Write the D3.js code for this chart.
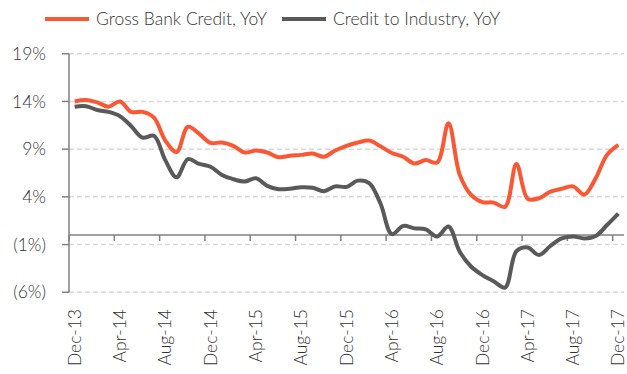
<!DOCTYPE html>
<html lang="en">
<head>
<meta charset="utf-8" />
<title>Gross Bank Credit vs Credit to Industry</title>
<script src="https://d3js.org/d3.v7.min.js"></script>
<style>
  body { margin: 0; background: #fff; }
  svg text { font-family: Lato, "Open Sans", sans-serif; font-weight: 300; fill: #333; }
</style>
</head>
<body>
<svg width="627" height="374"></svg>
<script>
// monthly series, Dec-13 .. Dec-17
var months = ["Dec-13","Jan-14","Feb-14","Mar-14","Apr-14","May-14","Jun-14","Jul-14","Aug-14","Sep-14","Oct-14","Nov-14",
  "Dec-14","Jan-15","Feb-15","Mar-15","Apr-15","May-15","Jun-15","Jul-15","Aug-15","Sep-15","Oct-15","Nov-15",
  "Dec-15","Jan-16","Feb-16","Mar-16","Apr-16","May-16","Jun-16","Jul-16","Aug-16","Sep-16","Oct-16","Nov-16",
  "Dec-16","Jan-17","Feb-17","Mar-17","Apr-17","May-17","Jun-17","Jul-17","Aug-17","Sep-17","Oct-17","Nov-17","Dec-17"];

var grossCredit = [14.0, 14.15, 13.9, 13.45, 14.0, 12.9, 12.9, 12.3, 9.9, 8.7, 11.35, 10.6,
  9.65, 9.7, 9.35, 8.65, 8.85, 8.65, 8.15, 8.3, 8.4, 8.55, 8.2, 8.85,
  9.35, 9.7, 9.9, 9.3, 8.6, 8.2, 7.5, 7.85, 7.6, 11.7, 6.3, 4.2,
  3.45, 3.4, 2.95, 7.45, 3.8, 3.85, 4.55, 4.85, 5.1, 4.25, 5.95, 8.4, 9.45];

var industryCredit = [13.45, 13.5, 13.1, 12.9, 12.45, 11.4, 10.2, 10.4, 7.85, 6.05, 7.95, 7.45,
  7.15, 6.3, 5.85, 5.6, 5.95, 5.15, 4.8, 4.85, 5.0, 4.95, 4.6, 5.1,
  5.05, 5.7, 5.45, 3.3, 0.1, 0.95, 0.7, 0.6, -0.15, 0.9, -1.75, -3.3,
  -4.2, -4.85, -5.5, -1.7, -1.3, -2.1, -1.15, -0.35, -0.15, -0.35, -0.1, 1.05, 2.25];

var yTicks = [-6, -1, 4, 9, 14, 19];
var labelEvery = 4;

var svg = d3.select("svg"),
    plotL = 69, plotR = 624, plotT = 53.7, plotB = 292.3;

var x = d3.scaleBand().domain(months).range([plotL, plotR]).paddingInner(0).paddingOuter(0);
var y = d3.scaleLinear().domain([-6, 19]).range([plotB, plotT]);

var fmt = function(v) { return v < 0 ? "(" + Math.abs(v) + "%)" : v + "%"; };

// gridlines + y ticks
var grid = svg.append("g");
grid.selectAll("line.grid").data(yTicks).enter().append("line")
    .attr("class", "grid")
    .attr("x1", plotL).attr("x2", plotR)
    .attr("y1", function(d) { return y(d); }).attr("y2", function(d) { return y(d); })
    .attr("stroke", "#d9d9d9").attr("stroke-width", 1.5).attr("stroke-dasharray", "5,3");
grid.selectAll("line.tick").data(yTicks).enter().append("line")
    .attr("class", "tick")
    .attr("x1", plotL - 7).attr("x2", plotL)
    .attr("y1", function(d) { return y(d); }).attr("y2", function(d) { return y(d); })
    .attr("stroke", "#808080").attr("stroke-width", 1.5);
grid.selectAll("text").data(yTicks).enter().append("text")
    .attr("x", 46).attr("y", function(d) { return y(d); })
    .attr("dy", "0.35em").attr("text-anchor", "end")
    .style("font-size", "17.5px")
    .text(fmt);

// y axis line
svg.append("line")
    .attr("x1", plotL).attr("x2", plotL).attr("y1", plotT).attr("y2", plotB)
    .attr("stroke", "#808080").attr("stroke-width", 1.5);

// x axis at zero
var xa = svg.append("g");
xa.append("line")
    .attr("x1", plotL).attr("x2", plotR).attr("y1", y(0)).attr("y2", y(0))
    .attr("stroke", "#808080").attr("stroke-width", 1.5);
var shown = months.filter(function(d, i) { return i % labelEvery === 0; });
xa.selectAll("line.t").data(shown).enter().append("line")
    .attr("class", "t")
    .attr("x1", function(d) { return x(d); }).attr("x2", function(d) { return x(d); })
    .attr("y1", y(0)).attr("y2", y(0) + 6)
    .attr("stroke", "#808080").attr("stroke-width", 1.5);
xa.selectAll("text").data(shown).enter().append("text")
    .attr("transform", function(d) {
      return "translate(" + (x(d) + x.bandwidth() / 2) + ",309) rotate(-90)";
    })
    .attr("dy", "0.35em").attr("text-anchor", "end")
    .style("font-size", "17.5px")
    .text(function(d) { return d; });

// lines
var line = d3.line()
    .x(function(d, i) { return x(months[i]) + x.bandwidth() / 2; })
    .y(function(d) { return y(d); })
    .curve(d3.curveCatmullRom.alpha(0.5));

svg.append("path").datum(industryCredit)
    .attr("d", line).attr("fill", "none")
    .attr("stroke", "#595959").attr("stroke-width", 4).attr("stroke-linejoin", "round");
svg.append("path").datum(grossCredit)
    .attr("d", line).attr("fill", "none")
    .attr("stroke", "#fa5734").attr("stroke-width", 4).attr("stroke-linejoin", "round");

// legend
var legend = [
  {name: "Gross Bank Credit, YoY", color: "#fa5734", x: 45},
  {name: "Credit to Industry, YoY", color: "#595959", x: 282}
];
var lg = svg.selectAll("g.legend").data(legend).enter().append("g")
    .attr("class", "legend")
    .attr("transform", function(d) { return "translate(" + d.x + ",19)"; });
lg.append("line").attr("x1", 0).attr("x2", 44).attr("y1", 0).attr("y2", 0)
    .attr("stroke", function(d) { return d.color; }).attr("stroke-width", 4);
lg.append("text").attr("x", 51).attr("y", 0).attr("dy", "0.35em")
    .style("font-size", "17.5px")
    .text(function(d) { return d.name; });
</script>
</body>
</html>
